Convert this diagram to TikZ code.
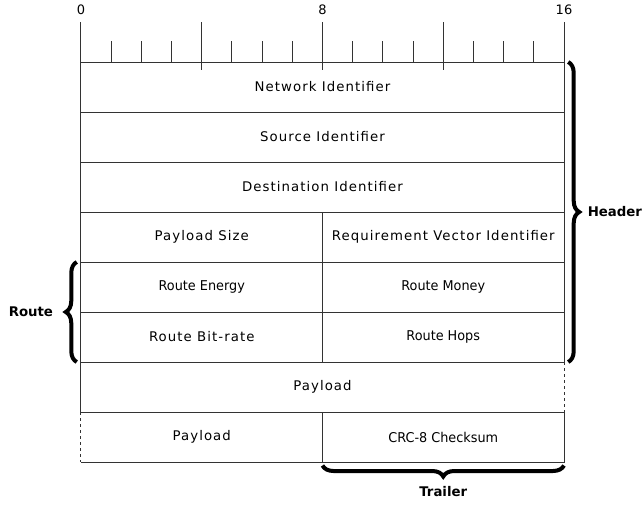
\documentclass[tikz,border=0pt]{standalone}
\usepackage{fontspec}
\setmainfont{DejaVu Sans}
\newfontfamily\spaced[LetterSpace=8]{DejaVu Sans}
\newfontfamily\tight[FakeStretch=0.95]{DejaVu Sans}
\usetikzlibrary{decorations.pathreplacing}
\tikzset{
  cell/.style={rectangle,inner sep=0,outer sep=0,minimum height=50pt,font=\spaced\fontsize{13.3}{16}\selectfont},
  word/.style={cell,draw=black!80,minimum width=483pt},
  half/.style={cell,draw=black!80,minimum width=241.5pt},
  tight/.style={font=\tight\fontsize{13.5}{16}\selectfont},
  brc/.style={decorate,decoration={brace,amplitude=11pt},line width=4pt},
  tag/.style={font=\bfseries\fontsize{13.3}{16}\selectfont},
}
\begin{document}
\begin{tikzpicture}[x=30.1875pt,y=-50pt,line width=1pt]
\useasboundingbox (-2.683,-1.24) rectangle (18.617,8.88);
%bit ruler
\draw (0,0) -- (16,0);
\foreach \b in {1,2,3,5,6,7,9,10,11,13,14,15}{
  \draw [black!80] (\b,0) -- (\b,-0.42);
}
\foreach \b in {0,4,8,12,16}{
  \draw [black!80] (\b,0.15) -- (\b,-0.8);
}
\foreach \b in {0,8,16}{
  \node (bit\b) at (\b,-1.04) [font=\fontsize{13}{15}\selectfont] {\b};
}

%header words
\node (net) at (8,0.5) [word] {Network Identifier};
\node (src) at (8,1.5) [word] {Source Identifier};
\node (dst) at (8,2.5) [word] {Destination Identifier};
\node (size) at (4,3.5) [half] {Payload Size};
\node (rvi) at (12,3.5) [half] {Requirement Vector Identifier};
\node (energy) at (4,4.5) [half,tight] {Route Energy};
\node (money) at (12,4.5) [half,tight] {Route Money};
\node (rate) at (4,5.5) [half] {Route Bit-rate};
\node (hops) at (12,5.5) [half,tight] {Route Hops};

%payload and trailer
\node (pay) at (8,6.5) [word,draw=none] {Payload};
\node (tail) at (4,7.5) [half,draw=none] {Payload};
\node (crc) at (12,7.5) [half,tight] {CRC-8 Checksum};
\draw [black!80] (pay.north east) -- (pay.north west) -- (pay.south west) -- (pay.south east);
\draw [black!80,dashed] (pay.north east) -- (pay.south east);
\draw [black!80] (tail.north west) -- (tail.north east) -- (tail.south east) -- (tail.south west);
\draw [black!80,dashed] (tail.north west) -- (tail.south west);

%braces
\coordinate (h1) at (16.14,0);
\coordinate (h2) at (16.14,6);
\coordinate (r1) at (-0.14,6);
\coordinate (r2) at (-0.14,4);
\coordinate (t1) at (16,8.07);
\coordinate (t2) at (8,8.07);
\draw [brc] (h1) -- (h2);
\draw [brc] (r1) -- (r2);
\draw [brc] (t1) -- (t2);

%labels
\node (hdr) at (16.66,3) [tag,anchor=west] {Header};
\node (rte) at (-0.8,5) [tag,anchor=east] {Route};
\node (trl) at (12,8.6) [tag] {Trailer};
\end{tikzpicture}
\end{document}
